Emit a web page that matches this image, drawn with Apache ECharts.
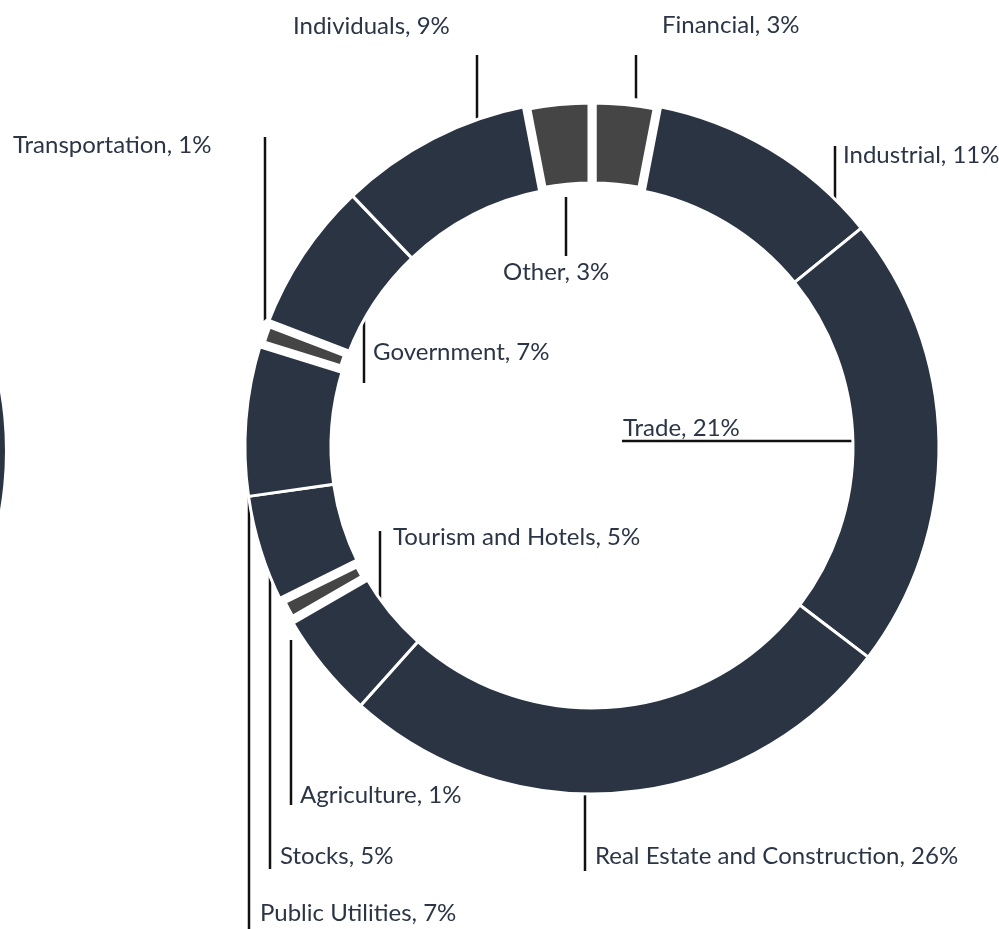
<!DOCTYPE html>
<html>
<head>
<meta charset="utf-8">
<script src="https://cdn.jsdelivr.net/npm/echarts@6/dist/echarts.min.js"></script>
<style>
  html, body { margin: 0; padding: 0; background: #fff; }
  #chart { width: 999px; height: 929px; }
</style>
</head>
<body>
<div id="chart"></div>
<script>
// sectors, clockwise from 12 o'clock
const sectors = ['Financial', 'Industrial', 'Trade', 'Real Estate and Construction', 'Tourism and Hotels',
    'Agriculture', 'Stocks', 'Public Utilities', 'Transportation', 'Government', 'Individuals', 'Other'];
const shares = [3, 11, 21, 26, 5, 1, 5, 7, 1, 7, 9, 3];
// the small "grey" sectors drawn with a white halo
const greySectors = ['Financial', 'Agriculture', 'Transportation', 'Other'];

const DARK = '#2a3443';
const GREY = '#454545';
const TEXT = '#2b3546';

// label anchor (left x, middle y) and leader line ends, by sector
const labelPos = [
    [662, 25], [843, 155], [623, 428], [595, 856], [393, 537], [300, 795],
    [280, 856], [260, 913], [13, 145], [373, 352], [293, 26], [503, 272]
];
const leaderLines = [
    [[636, 105], [636, 55]],
    [[835, 215], [835, 146]],
    [[858, 441], [622, 441]],
    [[585, 785], [585, 871]],
    [[380, 601], [380, 531]],
    [[291, 640], [291, 805]],
    [[270, 568], [270, 869]],
    [[249, 450], [249, 929]],
    [[265, 321], [265, 137]],
    [[364, 383], [364, 315]],
    [[477, 122], [477, 55]],
    [[566, 197], [566, 256]]
];

const chart = echarts.init(document.getElementById('chart'));

const baseData = sectors.map((name, i) => ({
    name: name,
    value: shares[i],
    itemStyle: { color: greySectors.includes(name) ? GREY : DARK }
}));

const haloData = sectors.map((name, i) => {
    const grey = greySectors.includes(name);
    return {
        name: name,
        value: shares[i],
        itemStyle: grey
            ? { color: GREY, borderColor: '#fff', borderWidth: 9 }
            : { color: 'rgba(0,0,0,0)', borderWidth: 0 }
    };
});

chart.setOption({
    animation: false,
    series: [
        {
            // neighbouring donut, mostly off the left edge
            type: 'pie',
            silent: true,
            center: [-342, 451],
            radius: [261, 347],
            label: { show: false },
            labelLine: { show: false },
            itemStyle: { color: DARK },
            data: [{ name: 'rest', value: 1 }]
        },
        {
            type: 'pie',
            silent: true,
            center: [592, 447],
            radius: [261, 347],
            startAngle: 90,
            clockwise: true,
            avoidLabelOverlap: false,
            itemStyle: { borderColor: '#fff', borderWidth: 3 },
            label: {
                show: true,
                position: 'outside',
                fontFamily: 'Lato',
                fontSize: 24,
                color: TEXT,
                formatter: (p) => p.name + ', ' + p.value + '%'
            },
            labelLine: {
                show: true,
                lineStyle: { color: '#111', width: 2.5 }
            },
            labelLayout: (params) => {
                const i = params.dataIndex;
                const pts = leaderLines[i];
                return {
                    x: labelPos[i][0],
                    y: labelPos[i][1],
                    align: 'left',
                    verticalAlign: 'middle',
                    labelLinePoints: [pts[0], pts[1], pts[1]]
                };
            },
            data: baseData
        },
        {
            // grey sectors again, on top, so their white halo cuts into neighbours
            type: 'pie',
            silent: true,
            center: [592, 447],
            radius: [261, 347],
            startAngle: 90,
            clockwise: true,
            label: { show: false },
            labelLine: { show: false },
            data: haloData
        }
    ]
});

window.addEventListener('resize', () => chart.resize());
</script>
</body>
</html>
